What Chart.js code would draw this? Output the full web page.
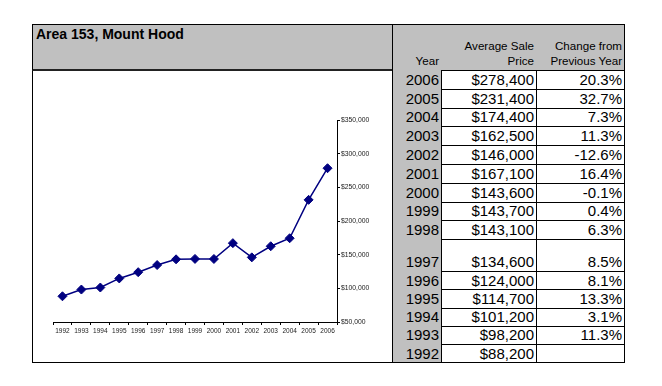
<!DOCTYPE html>
<html><head><meta charset="utf-8">
<script src="https://cdn.jsdelivr.net/npm/chart.js@4/dist/chart.umd.min.js"></script>
<style>
*{box-sizing:border-box;}
body{margin:0;background:#fff;width:662px;height:386px;position:relative;overflow:hidden;font-family:"Liberation Sans",Arial,sans-serif;color:#000;}
.abs{position:absolute;}
#frame{left:32px;top:24px;width:593px;height:339px;border:1px solid #000;}
#titlebar{left:32px;top:24px;width:361px;height:47px;background:#c0c0c0;border:1px solid #000;border-bottom:2px solid #222;}
#title{left:36px;top:26px;font-weight:bold;font-size:14px;line-height:16px;}
.cell{position:absolute;border-right:1px solid #000;border-bottom:1px solid #000;display:flex;justify-content:flex-end;align-items:center;padding-right:2px;font-size:15px;line-height:15px;white-space:nowrap;}
.cell.tall{align-items:flex-end;padding-bottom:2px;}
.cell.head{align-items:flex-end;text-align:right;font-size:11.6px;line-height:15px;padding-bottom:2px;background:#c0c0c0;border-top:1px solid #000;}
.gray{background:#c0c0c0;}
#chartwrap{left:33px;top:71px;width:358px;height:290px;}
</style>
</head><body>
<div id="frame" class="abs"></div>
<div id="titlebar" class="abs"></div>
<div id="title" class="abs">Area 153, Mount Hood</div>
<div id="tbl"></div>
<div id="chartwrap" class="abs"><canvas id="c" width="358" height="290"></canvas></div>
<script>
const years = ['1992','1993','1994','1995','1996','1997','1998','1999','2000','2001','2002','2003','2004','2005','2006'];
const prices = [88200, 98200, 101200, 114700, 124000, 134600, 143100, 143700, 143600, 167100, 146000, 162500, 174400, 231400, 278400];
const changes = ['', '11.3%', '3.1%', '13.3%', '8.1%', '8.5%', '6.3%', '0.4%', '-0.1%', '16.4%', '-12.6%', '11.3%', '7.3%', '32.7%', '20.3%'];
const headers = ['Year', 'Average Sale<br>Price', 'Change from<br>Previous Year'];
const yTicks = [50000, 100000, 150000, 200000, 250000, 300000, 350000];

const fmt = v => '$' + v.toLocaleString('en-US');

// table layout
const colX = [392, 441, 536, 624];
const tbl = document.getElementById('tbl');
function addCell(x0, x1, y0, y1, html, cls) {
  const d = document.createElement('div');
  d.className = 'cell ' + (cls || '');
  d.style.left = x0 + 'px'; d.style.top = y0 + 'px';
  d.style.width = (x1 - x0 + 1) + 'px'; d.style.height = (y1 - y0 + 1) + 'px';
  d.innerHTML = html;
  tbl.appendChild(d);
}
headers.forEach((h, i) => addCell(colX[i], colX[i + 1], 24, 70, h, 'head'));
const order = years.map((_, i) => years.length - 1 - i);
let y = 70;
order.forEach((idx, r) => {
  let h = r < 9 ? 18.8 : (r === 9 ? 32 : 18.2);
  const tall = r === 9 ? ' tall' : '';
  addCell(colX[0], colX[1], y, y + h, years[idx], 'gray' + tall);
  addCell(colX[1], colX[2], y, y + h, fmt(prices[idx]), tall);
  addCell(colX[2], colX[3], y, y + h, changes[idx], tall);
  y += h;
});
// left border of table
const lb = document.createElement('div');
lb.className = 'abs'; lb.style.left = '392px'; lb.style.top = '24px'; lb.style.width = '1px'; lb.style.height = '339px'; lb.style.background = '#000';
tbl.appendChild(lb);

const fam = '"Liberation Sans", Arial, sans-serif';
new Chart(document.getElementById('c'), {
  type: 'line',
  data: {
    labels: years,
    datasets: [{
      data: prices,
      borderColor: '#000080',
      backgroundColor: '#000080',
      borderWidth: 1.5,
      pointStyle: 'rectRot',
      pointRadius: 4.5,
      pointBorderWidth: 1,
      tension: 0,
      fill: false
    }]
  },
  options: {
    responsive: false,
    animation: false,
    devicePixelRatio: 1,
    layout: { padding: { left: 20, top: 49, right: 0, bottom: 0 } },
    plugins: { legend: { display: false }, title: { display: false }, tooltip: { enabled: false } },
    scales: {
      x: {
        offset: true,
        grid: { offset: true, drawOnChartArea: false, drawTicks: true, tickLength: 3, color: '#000' },
        border: { color: '#000', width: 1 },
        ticks: { font: { size: 6.5, family: fam }, color: '#222', maxRotation: 0, autoSkip: false, padding: 2 },
        afterFit: s => { s.height = 39; }
      },
      y: {
        position: 'right',
        min: 50000, max: 350000,
        afterBuildTicks: s => { s.ticks = yTicks.map(v => ({ value: v })); },
        grid: { drawOnChartArea: false, drawTicks: true, tickLength: 3, color: '#000' },
        border: { color: '#000', width: 1 },
        ticks: { font: { size: 6.8, family: fam }, color: '#222', padding: 1, callback: v => fmt(v) },
        afterFit: s => { s.width = 54; }
      }
    }
  }
});
</script>
</body></html>
